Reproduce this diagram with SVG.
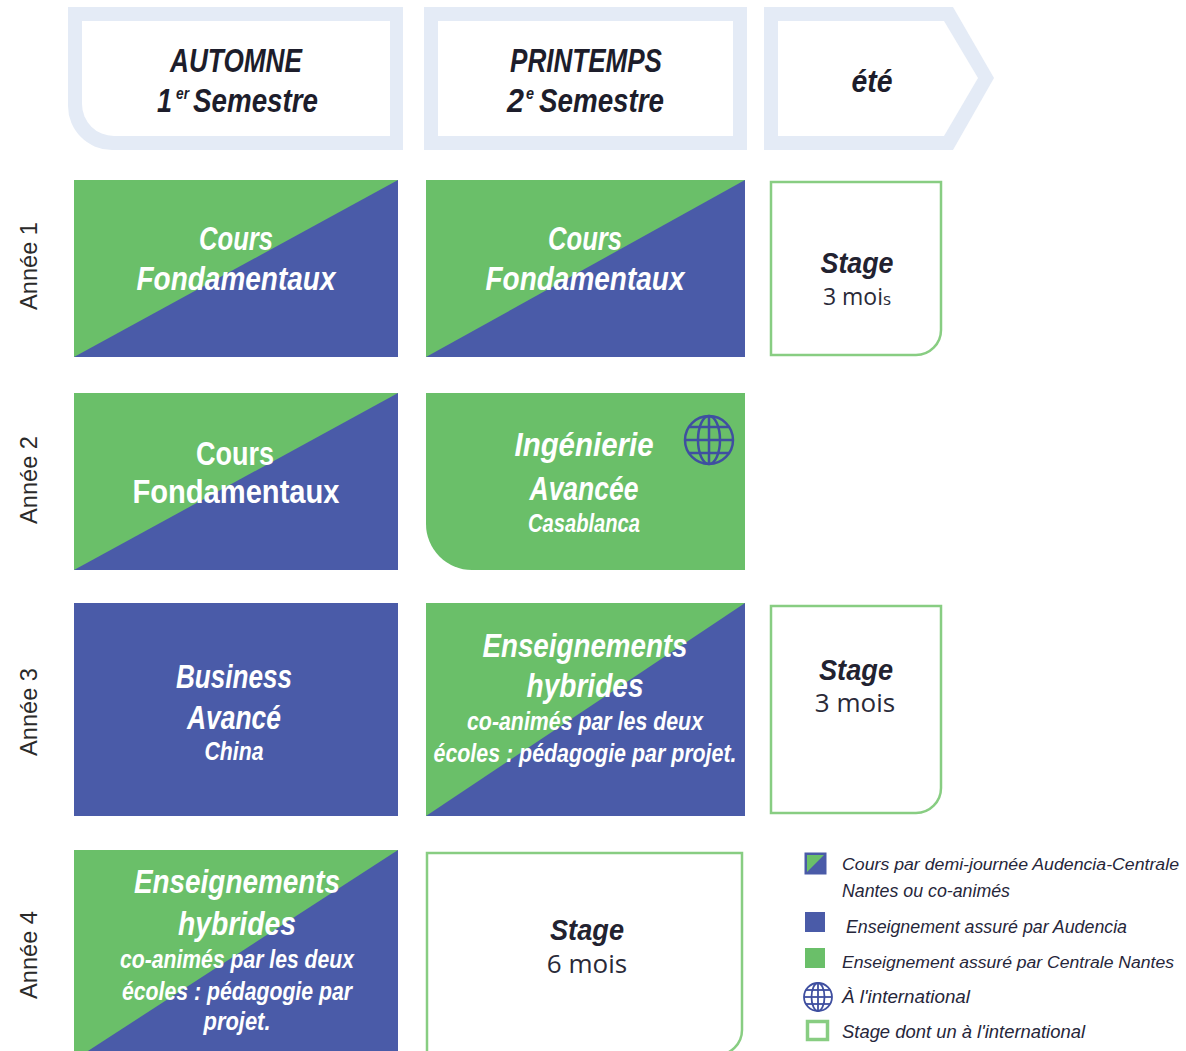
<svg xmlns="http://www.w3.org/2000/svg" width="1186" height="1051" viewBox="0 0 1186 1051">
<style>
.hb{fill:#e4ebf6}
.wh{fill:#ffffff}
.g{fill:#6abf69}
.b{fill:#4a5ba8}
.st{fill:#ffffff;stroke:#88cd82;stroke-width:2.5}
.ht{font-family:"Liberation Sans",Arial,sans-serif;font-weight:bold;font-style:italic;fill:#1d1d2b;text-anchor:middle}
.hl{font-family:"Liberation Sans",Arial,sans-serif;font-weight:bold;font-style:italic;fill:#1d1d2b}
.wt{font-family:"Liberation Sans",Arial,sans-serif;font-weight:bold;font-style:italic;fill:#ffffff;text-anchor:middle}
.ws{font-family:"Liberation Sans",Arial,sans-serif;font-weight:bold;font-style:italic;fill:#ffffff;text-anchor:middle;font-size:24px}
.sg{font-family:"Liberation Sans",Arial,sans-serif;font-weight:bold;font-style:italic;fill:#222230;text-anchor:middle;font-size:30px}
.sm{font-family:"Open Sans","Liberation Sans",sans-serif;fill:#2a2a38;text-anchor:middle}
.yr{font-family:"Liberation Sans",Arial,sans-serif;fill:#2a2a2a;font-size:24px;text-anchor:middle}
.lg{font-family:"Liberation Sans",Arial,sans-serif;font-style:italic;fill:#26263a;font-size:18.5px}
.lgs{font-size:17.2px}
.globe{fill:none;stroke:#3f4fa0;stroke-width:2.5}
</style>

<g id="header-automne">
<path class="hb" d="M68,7 H403 V150 H112 A44,44 0 0 1 68,106 Z"/>
<path class="wh" d="M82,21 H390 V136 H114 A32,32 0 0 1 82,104 Z"/>
<text class="ht" x="236" y="72" font-size="34" textLength="132" lengthAdjust="spacingAndGlyphs">AUTOMNE</text>
<text class="hl" x="157" y="112" font-size="34" textLength="15" lengthAdjust="spacingAndGlyphs">1</text>
<text class="hl" x="176" y="99" font-size="16" textLength="13" lengthAdjust="spacingAndGlyphs">er</text>
<text class="hl" x="193" y="112" font-size="34" textLength="125" lengthAdjust="spacingAndGlyphs">Semestre</text>
</g>

<g id="header-printemps">
<rect class="hb" x="424" y="7" width="323" height="143"/>
<rect class="wh" x="438" y="21" width="295" height="115"/>
<text class="ht" x="586" y="72" font-size="34" textLength="152" lengthAdjust="spacingAndGlyphs">PRINTEMPS</text>
<text class="hl" x="507" y="112" font-size="34" textLength="17" lengthAdjust="spacingAndGlyphs">2</text>
<text class="hl" x="526" y="99" font-size="16" textLength="8" lengthAdjust="spacingAndGlyphs">e</text>
<text class="hl" x="539" y="112" font-size="34" textLength="125" lengthAdjust="spacingAndGlyphs">Semestre</text>
</g>

<g id="header-ete">
<path class="hb" d="M764,7 H953 L994,78 L953,150 H764 Z"/>
<path class="wh" d="M778,21 H944 L978,78 L944,136 H778 Z"/>
<text class="ht" x="872" y="92" font-size="32" textLength="41" lengthAdjust="spacingAndGlyphs">été</text>
</g>

<g id="year-labels">
<text class="yr" transform="translate(37,266) rotate(-90)" textLength="88" lengthAdjust="spacingAndGlyphs">Année 1</text>
<text class="yr" transform="translate(37,480) rotate(-90)" textLength="88" lengthAdjust="spacingAndGlyphs">Année 2</text>
<text class="yr" transform="translate(37,712) rotate(-90)" textLength="88" lengthAdjust="spacingAndGlyphs">Année 3</text>
<text class="yr" transform="translate(37,955) rotate(-90)" textLength="88" lengthAdjust="spacingAndGlyphs">Année 4</text>
</g>

<g id="a1-automne">
<rect class="b" x="74" y="180" width="324" height="177"/>
<polygon class="g" points="74,180 398,180 74,357"/>
<text class="wt" x="236" y="250" font-size="33" textLength="74" lengthAdjust="spacingAndGlyphs">Cours</text>
<text class="wt" x="236" y="290" font-size="33" textLength="199" lengthAdjust="spacingAndGlyphs">Fondamentaux</text>
</g>

<g id="a1-printemps">
<rect class="b" x="426" y="180" width="319" height="177"/>
<polygon class="g" points="426,180 745,180 426,357"/>
<text class="wt" x="585" y="250" font-size="33" textLength="74" lengthAdjust="spacingAndGlyphs">Cours</text>
<text class="wt" x="585" y="290" font-size="33" textLength="199" lengthAdjust="spacingAndGlyphs">Fondamentaux</text>
</g>

<g id="a1-stage">
<path class="st" d="M771,182 H941 V330 A25,25 0 0 1 916,355 H771 Z"/>
<text class="sg" x="857" y="273" textLength="73" lengthAdjust="spacingAndGlyphs">Stage</text>
<text class="sm" x="857" y="305" font-size="23">3 moi<tspan font-size="17">s</tspan></text>
</g>

<g id="a2-automne">
<rect class="b" x="74" y="393" width="324" height="177"/>
<polygon class="g" points="74,393 398,393 74,570"/>
<text class="wt" x="235" y="465" font-size="33" style="font-style:normal" textLength="78" lengthAdjust="spacingAndGlyphs">Cours</text>
<text class="wt" x="236" y="503" font-size="33" style="font-style:normal" textLength="207" lengthAdjust="spacingAndGlyphs">Fondamentaux</text>
</g>

<g id="a2-printemps">
<path class="g" d="M426,393 H745 V570 H472 A46,46 0 0 1 426,524 Z"/>
<text class="wt" x="584" y="456" font-size="33" textLength="139" lengthAdjust="spacingAndGlyphs">Ingénierie</text>
<text class="wt" x="584" y="500" font-size="33" textLength="109" lengthAdjust="spacingAndGlyphs">Avancée</text>
<text class="ws" x="584" y="532" style="font-size:25px" textLength="112" lengthAdjust="spacingAndGlyphs">Casablanca</text>
<g class="globe">
<circle cx="709" cy="440" r="24"/>
<ellipse cx="709" cy="440" rx="11" ry="24"/>
<line x1="709" y1="416" x2="709" y2="464"/>
<line x1="685" y1="440" x2="733" y2="440"/>
<line x1="689" y1="427" x2="729" y2="427"/>
<line x1="689" y1="453" x2="729" y2="453"/>
</g>
</g>

<g id="a3-automne">
<rect class="b" x="74" y="603" width="324" height="213"/>
<text class="wt" x="234" y="688" font-size="33" textLength="116" lengthAdjust="spacingAndGlyphs">Business</text>
<text class="wt" x="234" y="729" font-size="33" textLength="94" lengthAdjust="spacingAndGlyphs">Avancé</text>
<text class="ws" x="234" y="760" style="font-size:25px" textLength="59" lengthAdjust="spacingAndGlyphs">China</text>
</g>

<g id="a3-printemps">
<rect class="b" x="426" y="603" width="319" height="213"/>
<polygon class="g" points="426,603 745,603 426,816"/>
<text class="wt" x="585" y="657" font-size="33" textLength="205" lengthAdjust="spacingAndGlyphs">Enseignements</text>
<text class="wt" x="585" y="697" font-size="33" textLength="117" lengthAdjust="spacingAndGlyphs">hybrides</text>
<text class="ws" x="585" y="730" style="font-size:26px" textLength="236" lengthAdjust="spacingAndGlyphs">co-animés par les deux</text>
<text class="ws" x="585" y="762" style="font-size:26px" textLength="303" lengthAdjust="spacingAndGlyphs">écoles : pédagogie par projet.</text>
</g>

<g id="a3-stage">
<path class="st" d="M771,606 H941 V788 A25,25 0 0 1 916,813 H771 Z"/>
<text class="sg" x="856" y="680" textLength="74" lengthAdjust="spacingAndGlyphs">Stage</text>
<text class="sm" x="855" y="712" font-size="26">3 mois</text>
</g>

<g id="a4-automne">
<rect class="b" x="74" y="850" width="324" height="210"/>
<polygon class="g" points="74,850 398,850 74,1060"/>
<text class="wt" x="237" y="893" font-size="33" textLength="206" lengthAdjust="spacingAndGlyphs">Enseignements</text>
<text class="wt" x="237" y="935" font-size="33" textLength="118" lengthAdjust="spacingAndGlyphs">hybrides</text>
<text class="ws" x="237" y="968" style="font-size:26px" textLength="234" lengthAdjust="spacingAndGlyphs">co-animés par les deux</text>
<text class="ws" x="237" y="1000" style="font-size:26px" textLength="230" lengthAdjust="spacingAndGlyphs">écoles : pédagogie par</text>
<text class="ws" x="237" y="1030" style="font-size:26px" textLength="67" lengthAdjust="spacingAndGlyphs">projet.</text>
</g>

<g id="a4-stage">
<path class="st" d="M427,853 H742 V1030 A25,25 0 0 1 717,1055 H427 Z"/>
<text class="sg" x="587" y="940" textLength="74" lengthAdjust="spacingAndGlyphs">Stage</text>
<text class="sm" x="587" y="973" font-size="26">6 mois</text>
</g>

<g id="legend">
<rect class="b" x="805" y="853" width="21" height="21"/>
<polygon class="g" points="807,855 824,855 807,872"/>
<rect x="805.5" y="853.5" width="20" height="20" fill="none" stroke="#4a5ba8" stroke-width="2"/>
<text class="lg lgs" x="842" y="870" textLength="337" lengthAdjust="spacingAndGlyphs">Cours par demi-journée Audencia-Centrale</text>
<text class="lg" x="842" y="897" textLength="168" lengthAdjust="spacingAndGlyphs">Nantes ou co-animés</text>
<rect class="b" x="805" y="912" width="20" height="20"/>
<text class="lg" x="846" y="933" textLength="281" lengthAdjust="spacingAndGlyphs">Enseignement assuré par Audencia</text>
<rect class="g" x="805" y="948" width="20" height="20"/>
<text class="lg lgs" x="842" y="968" textLength="332" lengthAdjust="spacingAndGlyphs">Enseignement assuré par Centrale Nantes</text>
<g class="globe" style="stroke-width:1.8">
<circle cx="818" cy="997" r="14"/>
<ellipse cx="818" cy="997" rx="6.5" ry="14"/>
<line x1="818" y1="983" x2="818" y2="1011"/>
<line x1="804" y1="997" x2="832" y2="997"/>
<line x1="806" y1="990" x2="830" y2="990"/>
<line x1="806" y1="1004" x2="830" y2="1004"/>
</g>
<text class="lg" x="842" y="1003" textLength="128" lengthAdjust="spacingAndGlyphs">À l'international</text>
<rect x="807.5" y="1021.5" width="20" height="18" fill="#ffffff" stroke="#88cd82" stroke-width="3.5"/>
<text class="lg" x="842" y="1038" textLength="243" lengthAdjust="spacingAndGlyphs">Stage dont un à l'international</text>
</g>

<g id="connectors"></g>
</svg>
